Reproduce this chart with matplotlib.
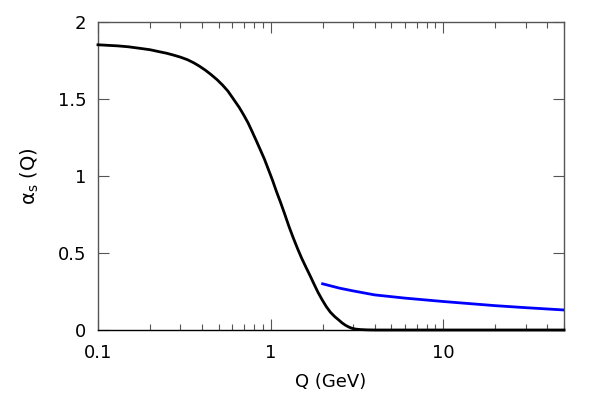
import matplotlib
matplotlib.use('Agg')
import matplotlib.pyplot as plt

# black curve: alpha_s(Q) from the model
qModel = [0.1, 0.13, 0.15, 0.175, 0.2, 0.22, 0.25, 0.272, 0.3, 0.33, 0.36, 0.387,
          0.42, 0.45, 0.49, 0.527, 0.565, 0.6, 0.658, 0.7, 0.74, 0.78, 0.822,
          0.87, 0.92, 0.97, 1.024, 1.08, 1.14, 1.2, 1.278, 1.35, 1.43, 1.51,
          1.596, 1.69, 1.78, 1.88, 1.99, 2.1, 2.22, 2.35, 2.48, 2.6, 2.72, 2.84,
          2.96, 3.1, 3.3, 3.6, 4.0, 10.0, 50.0]
alphaModel = [1.852, 1.845, 1.839, 1.829, 1.82, 1.81, 1.797, 1.786, 1.772, 1.755,
              1.734, 1.713, 1.686, 1.66, 1.625, 1.59, 1.552, 1.51, 1.445, 1.394,
              1.345, 1.29, 1.234, 1.172, 1.11, 1.043, 0.974, 0.9, 0.83, 0.76,
              0.671, 0.6, 0.53, 0.468, 0.411, 0.354, 0.30, 0.245, 0.195, 0.152,
              0.115, 0.087, 0.065, 0.045, 0.03, 0.019, 0.011, 0.006, 0.003,
              0.001, 0.0, 0.0, 0.0]

# blue curve: perturbative running coupling
qPert = [2.0, 2.5, 3.0, 4.0, 6.0, 10.0, 20.0, 30.0, 50.0]
alphaPert = [0.300, 0.272, 0.254, 0.228, 0.207, 0.185, 0.158, 0.145, 0.130]

xticks = [0.1, 1, 10]
xticklabels = ['0.1', '1', '10']
yticks = [0, 0.5, 1, 1.5, 2]
yticklabels = ['0', '0.5', '1', '1.5', '2']

fig = plt.figure(figsize=(6, 4), dpi=100)
ax = fig.add_axes([0.1633, 0.175, 0.7767, 0.77])

ax.plot(qModel, alphaModel, color='black', lw=2.0, clip_on=False, zorder=3)
ax.plot(qPert, alphaPert, color='#0000ff', lw=2.0, zorder=3)

ax.set_xscale('log')
ax.set_xlim(0.1, 50)
ax.set_ylim(0, 2)
ax.set_xticks(xticks)
ax.set_xticklabels(xticklabels)
ax.set_yticks(yticks)
ax.set_yticklabels(yticklabels)
ax.minorticks_on()
ax.yaxis.set_minor_locator(matplotlib.ticker.NullLocator())

ax.tick_params(which='both', direction='in', top=True, right=True, color='#555555',
               labelsize=13)
ax.tick_params(axis='x', which='both', pad=10)
ax.tick_params(axis='y', which='both', pad=8.5)
ax.tick_params(which='major', length=8, width=0.8)
ax.tick_params(which='minor', length=4, width=0.8)
for s in ax.spines.values():
    s.set_color('#555555')
    s.set_linewidth(1.0)
ax.spines['bottom'].set_color('black')

ax.set_xlabel('Q (GeV)', fontsize=13, labelpad=8)
ax.set_ylabel(r'α$_{\mathrm{s}}$ (Q)', fontsize=14, labelpad=12)

plt.savefig('out.png')
